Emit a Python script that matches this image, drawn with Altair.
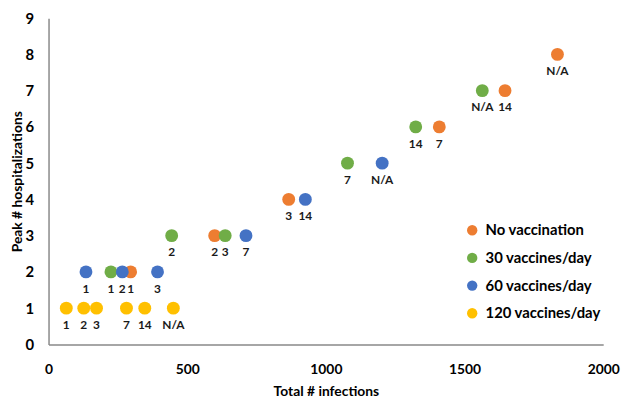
import altair as alt
import pandas as pd

series_names = ["No vaccination", "30 vaccines/day", "60 vaccines/day", "120 vaccines/day"]
colors = ["#ED7D31", "#70AD47", "#4472C4", "#FFC000"]

no_vax_x = [296, 599, 866, 1409, 1646, 1835]
no_vax_y = [2, 3, 4, 6, 7, 8]
no_vax_lab = ["1", "2", "3", "7", "14", "N/A"]

v30_x = [225, 444, 637, 1078, 1324, 1564]
v30_y = [2, 3, 3, 5, 6, 7]
v30_lab = ["1", "2", "3", "7", "14", "N/A"]

v60_x = [135, 266, 393, 712, 926, 1203]
v60_y = [2, 2, 2, 3, 4, 5]
v60_lab = ["1", "2", "3", "7", "14", "N/A"]

v120_x = [64, 127, 173, 281, 347, 450]
v120_y = [1, 1, 1, 1, 1, 1]
v120_lab = ["1", "2", "3", "7", "14", "N/A"]

x_ticks = [0, 500, 1000, 1500, 2000]
y_ticks = [0, 1, 2, 3, 4, 5, 6, 7, 8, 9]

rows = []
for name, xs, ys, labs in [
    (series_names[0], no_vax_x, no_vax_y, no_vax_lab),
    (series_names[1], v30_x, v30_y, v30_lab),
    (series_names[2], v60_x, v60_y, v60_lab),
    (series_names[3], v120_x, v120_y, v120_lab),
]:
    for xv, yv, lv in zip(xs, ys, labs):
        rows.append({"series": name, "infections": xv, "hosp": yv, "label": lv})
df = pd.DataFrame(rows)

FONT = "Lato"

x_enc = alt.X(
    "infections:Q",
    scale=alt.Scale(domain=[0, 2000], nice=False),
    axis=alt.Axis(
        values=x_ticks, format="d", title="Total # infections", grid=False, ticks=False,
        domainColor="#898989", domainWidth=1.5, labelOverlap=False,
        labelFont=FONT, labelFontSize=14, labelFontWeight="bold", labelColor="#000000",
        labelPadding=18, titleFont=FONT, titleFontSize=14, titleFontWeight="bold",
        titleColor="#000000", titlePadding=9, labelFlush=False,
    ),
)
y_enc = alt.Y(
    "hosp:Q",
    scale=alt.Scale(domain=[0, 9], nice=False),
    axis=alt.Axis(
        values=y_ticks, format="d", title="Peak # hospitalizations", grid=False, ticks=False,
        domainColor="#898989", domainWidth=1.5, labelOverlap=False,
        labelFont=FONT, labelFontSize=15, labelFontWeight="bold", labelColor="#000000",
        labelPadding=15, titleFont=FONT, titleFontSize=14, titleFontWeight="bold",
        titleColor="#000000", titleX=-24, titleY=165, labelFlush=False,
    ),
)

color_enc = alt.Color(
    "series:N",
    scale=alt.Scale(domain=series_names, range=colors),
    title=None,
    legend=alt.Legend(
        orient="none", legendX=421, legendY=207, symbolType="circle", symbolSize=110,
        symbolStrokeWidth=0, labelFont=FONT, labelFontSize=15, labelFontWeight="bold",
        labelColor="#000000", labelOffset=6, rowPadding=12, padding=0,
    ),
)

base = alt.Chart(df).encode(x=x_enc, y=y_enc)

points = base.mark_circle(size=169, opacity=1).encode(color=color_enc)
labels = base.mark_text(
    dy=17, font=FONT, fontSize=12, fontWeight="bold", color="#1a1a1a", baseline="middle"
).encode(text="label:N")

chart = (
    alt.layer(points, labels)
    .properties(
        width=561, height=330,
        autosize=alt.AutoSizeParams(type="none"),
        padding={"left": 41, "top": 8, "right": 18, "bottom": 56},
    )
    .configure_view(stroke=None)
)

chart.save("out.html", embed_options={"renderer": "svg", "actions": False})
